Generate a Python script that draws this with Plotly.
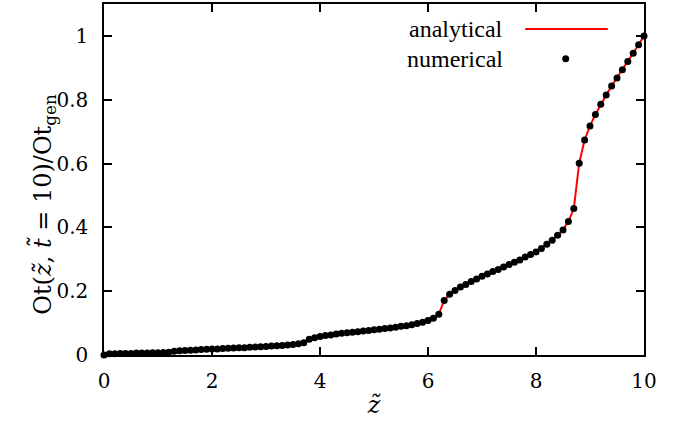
import plotly.graph_objects as go

# ---- data ----
z_values = [0.0, 0.1, 0.2, 0.3, 0.4, 0.5, 0.6, 0.7, 0.8, 0.9,
            1.0, 1.1, 1.2, 1.3, 1.4, 1.5, 1.6, 1.7, 1.8, 1.9,
            2.0, 2.1, 2.2, 2.3, 2.4, 2.5, 2.6, 2.7, 2.8, 2.9,
            3.0, 3.1, 3.2, 3.3, 3.4, 3.5, 3.6, 3.7, 3.8, 3.9,
            4.0, 4.1, 4.2, 4.3, 4.4, 4.5, 4.6, 4.7, 4.8, 4.9,
            5.0, 5.1, 5.2, 5.3, 5.4, 5.5, 5.6, 5.7, 5.8, 5.9,
            6.0, 6.1, 6.2, 6.3, 6.4, 6.5, 6.6, 6.7, 6.8, 6.9,
            7.0, 7.1, 7.2, 7.3, 7.4, 7.5, 7.6, 7.7, 7.8, 7.9,
            8.0, 8.1, 8.2, 8.3, 8.4, 8.5, 8.6, 8.7, 8.8, 8.9,
            9.0, 9.1, 9.2, 9.3, 9.4, 9.5, 9.6, 9.7, 9.8, 9.9,
            10.0]

numerical = [0.000, 0.004, 0.004, 0.005, 0.005, 0.005, 0.006, 0.006, 0.006, 0.007,
             0.007, 0.008, 0.009, 0.012, 0.013, 0.014, 0.015, 0.016, 0.017, 0.018,
             0.019, 0.019, 0.020, 0.021, 0.022, 0.023, 0.023, 0.024, 0.025, 0.026,
             0.027, 0.028, 0.029, 0.030, 0.031, 0.033, 0.035, 0.038, 0.049, 0.054,
             0.058, 0.061, 0.063, 0.066, 0.068, 0.070, 0.071, 0.073, 0.075, 0.077,
             0.079, 0.081, 0.083, 0.085, 0.087, 0.090, 0.092, 0.095, 0.099, 0.103,
             0.108, 0.115, 0.128, 0.171, 0.190, 0.202, 0.213, 0.221, 0.230, 0.238,
             0.247, 0.254, 0.262, 0.268, 0.276, 0.284, 0.291, 0.298, 0.307, 0.315,
             0.323, 0.334, 0.347, 0.360, 0.375, 0.392, 0.418, 0.459, 0.601, 0.674,
             0.718, 0.754, 0.786, 0.815, 0.843, 0.868, 0.894, 0.920, 0.946, 0.972,
             1.000]

analytical_z = z_values
analytical = numerical

x_ticks = [0, 2, 4, 6, 8, 10]
y_ticks = [0, 0.2, 0.4, 0.6, 0.8, 1]
y_tick_labels = ["0", "0.2", "0.4", "0.6", "0.8", "1"]

legend_names = ["analytical", "numerical"]
x_title = "<i>z̃</i>"
y_title = "Ot(<i>z̃</i>, <i>t̃</i> = 10)/Ot<sub>gen</sub>"

# ---- figure ----
fig = go.Figure()
fig.add_trace(go.Scatter(x=analytical_z, y=analytical, mode="lines",
                         name=legend_names[0],
                         line=dict(color="#ff0000", width=2),
                         showlegend=False, cliponaxis=True))
fig.add_trace(go.Scatter(x=z_values, y=numerical, mode="markers",
                         name=legend_names[1],
                         marker=dict(color="black", size=7),
                         showlegend=False, cliponaxis=False))

tick_font = dict(family="DejaVu Serif", size=20, color="black")
axis_common = dict(showline=True, linecolor="black", linewidth=1.5,
                   mirror="ticks", ticks="inside", ticklen=8, tickwidth=1.5,
                   tickcolor="black", showgrid=False, zeroline=False,
                   tickfont=tick_font)

fig.update_xaxes(range=[0, 10], tickvals=x_ticks, ticklabelstandoff=7,
                 title=dict(text=x_title, font=dict(family="DejaVu Serif", size=24),
                            standoff=4),
                 **axis_common)
fig.update_yaxes(range=[0, 1.1], tickvals=y_ticks, ticktext=y_tick_labels,
                 ticklabelstandoff=10, **axis_common)

# y-axis title placed like the reference (below the plot centre)
fig.add_annotation(x=-0.113, y=0.431, xref="paper", yref="paper", text=y_title,
                   textangle=-90, showarrow=False, xanchor="center", yanchor="middle",
                   font=dict(family="DejaVu Serif", size=24, color="black"))

# manual legend (text left, sample right, gnuplot style)
legend_font = dict(family="Liberation Serif", size=24, color="black")
fig.add_annotation(x=0.743, y=0.929, xref="paper", yref="paper", text=legend_names[0],
                   showarrow=False, xanchor="right", yanchor="middle", font=legend_font)
fig.add_annotation(x=0.743, y=0.844, xref="paper", yref="paper", text=legend_names[1],
                   showarrow=False, xanchor="right", yanchor="middle", font=legend_font)
fig.add_shape(type="line", xref="paper", yref="paper", x0=0.78, x1=0.933, y0=0.929, y1=0.929,
              line=dict(color="#ff0000", width=2))
fig.add_shape(type="circle", xref="paper", yref="paper", xsizemode="pixel", ysizemode="pixel",
              xanchor=0.855, yanchor=0.844, x0=-3.5, x1=3.5, y0=-3.5, y1=3.5,
              fillcolor="black", line=dict(color="black", width=0))

fig.update_layout(width=681, height=428, paper_bgcolor="white", plot_bgcolor="white",
                  margin=dict(l=104, r=37, t=2, b=73),
                  font=dict(family="DejaVu Serif", color="black"))

fig.write_html("out.html", config={"displayModeBar": False},
               post_script="document.body.style.margin='0';document.body.style.overflow='hidden';")
